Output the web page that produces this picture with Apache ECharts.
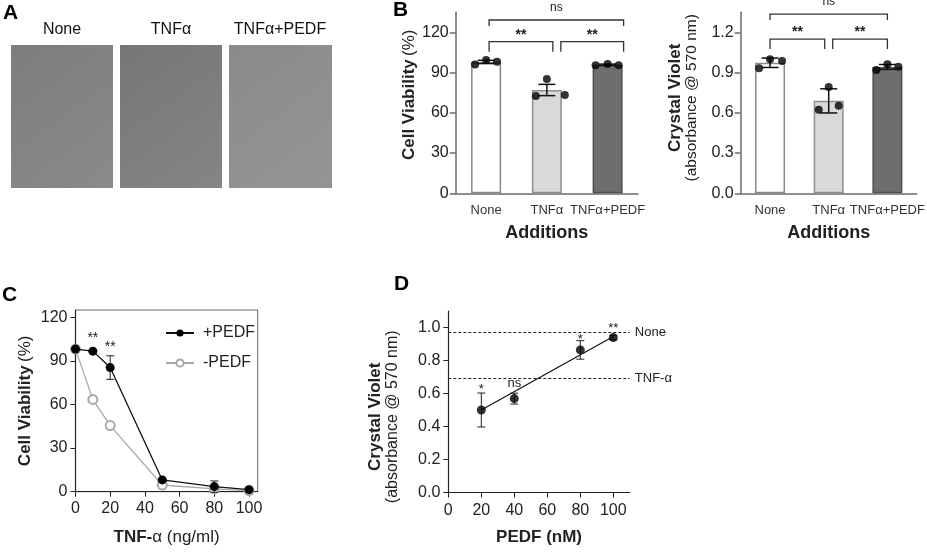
<!DOCTYPE html>
<html><head><meta charset="utf-8">
<script src="https://cdn.jsdelivr.net/npm/echarts@6/dist/echarts.min.js"></script>
<style>html,body{margin:0;padding:0;background:#fff}#c{width:927px;height:552px}</style>
</head><body><div id="c"></div>
<script>
// ---------------- DATA ----------------
// Panel B
const bCategories = ['None', 'TNFα', 'TNFα+PEDF'];
const viabilityMean = [97.9, 77.0, 95.8];
const viabilityErr = [1.2, 4.2, 0.5];
const viabilityLeft = [96.1, 72.5, 95.4];
const viabilityMid = [99.4, 85.2, 96.4];
const viabilityRight = [98.1, 73.3, 95.4];
const viabilityTicks = [0, 30, 60, 90, 120];
const crystalMean = [0.973, 0.689, 0.942];
const crystalErr = [0.035, 0.09, 0.018];
const crystalLeft = [0.933, 0.623, 0.920];
const crystalMid = [1.0, 0.792, 0.962];
const crystalRight = [0.987, 0.653, 0.944];
const crystalTicks = [0, 0.3, 0.6, 0.9, 1.2];
// significance brackets: [fromIndex, toIndex, yValue, label]
const viabilityBrackets = [[0, 2, 129.2, 'ns'], [0, 1, 113, '**'], [1, 2, 113, '**']];
const crystalBrackets = [[0, 2, 1.336, 'ns'], [0, 1, 1.15, '**'], [1, 2, 1.15, '**']];
// Panel C
const doseTNF = [0, 10, 20, 50, 80, 100];
const viabilityPlusPEDF = [98.1, 96.7, 85.4, 8.1, 3.5, 1.4];
const viabilityPlusPEDFErr = [0, 0, 8.1, 0.8, 3.9, 0.5];
const viabilityMinusPEDF = [98.1, 63.5, 45.5, 4.6, 2.0, 0.8];
const doseTicks = [0, 20, 40, 60, 80, 100];
const cSigX = [10, 20];
const cSigY = [107.8, 101.6];
const cSigLabels = ['**', '**'];
// Panel D
const dosePEDF = [20, 40, 80, 100];
const crystalPEDF = [0.50, 0.569, 0.864, 0.939];
const crystalPEDFErr = [0.103, 0.033, 0.056, 0.014];
const fitX = [20, 100];
const fitY = [0.50, 0.945];
const refLevels = [0.972, 0.688];
const refNames = ['None', 'TNF-α'];
const dSigY = [0.642, 0.653, 0.946, 1.011];
const dSigLabels = ['*', 'ns', '*', '**'];
const pedfTicks = [0, 20, 40, 60, 80, 100];
const crystalDTicks = [0, 0.2, 0.4, 0.6, 0.8, 1.0];

// ---------------- STYLE ----------------
const FONT = 'Liberation Sans, Arial, sans-serif';
const JIT_B1 = [[-11, 0, 11], [-11, 0, 18], [-12, 0, 11]];
const JIT_B2 = [[-11, 0, 12], [-10, 0, 10], [-11, 0, 11]];
// pixel tweaks of bracket ends [left, right]
const BR_B1 = [[3, 16], [3, 6], [14, 16]];
const BR_B2 = [[0, 0], [0, -4], [4, 0]];
const barStyles = [
  {color: '#ffffff', borderColor: '#8a8a8a', borderWidth: 1.5},
  {color: '#d9d9d9', borderColor: '#8f8f8f', borderWidth: 1.5},
  {color: '#6e6e6e', borderColor: '#4f4f4f', borderWidth: 1.5}
];

function errorBars(capW, lw, color) {
  return function (params, api) {
    const x = api.value(0), m = api.value(1), e = api.value(2);
    if (!e) return {type: 'group', children: []};
    const t = api.coord([x, m + e]), b = api.coord([x, m - e]);
    const st = {stroke: color, lineWidth: lw};
    return {type: 'group', children: [
      {type: 'line', shape: {x1: t[0], y1: t[1], x2: b[0], y2: b[1]}, style: st},
      {type: 'line', shape: {x1: t[0] - capW / 2, y1: t[1], x2: t[0] + capW / 2, y2: t[1]}, style: st},
      {type: 'line', shape: {x1: b[0] - capW / 2, y1: b[1], x2: b[0] + capW / 2, y2: b[1]}, style: st}
    ]};
  };
}
function starShift(label, fs) { return label.indexOf('*') >= 0 ? fs * 0.22 : -1; }
function bracketRender(list, tweaks) {
  return function (params, api) {
    const br = list[params.dataIndex], tw = tweaks[params.dataIndex];
    const p1 = api.coord([br[0], br[2]]), p2 = api.coord([br[1], br[2]]);
    const x1 = p1[0] + tw[0], x2 = p2[0] + tw[1], y = p1[1];
    const ns = br[3] === 'ns';
    const drop = ns ? 6 : 10;
    const fs = ns ? 12 : 14;
    const off = ns ? 11 : 10;
    return {type: 'group', children: [
      {type: 'polyline', shape: {points: [[x1, y + drop], [x1, y], [x2, y], [x2, y + drop]]},
        style: {stroke: '#333', lineWidth: 1.3, fill: null}},
      {type: 'text', style: {x: (x1 + x2) / 2, y: y - off + starShift(br[3], fs), text: br[3],
        align: 'center', verticalAlign: 'middle', fontSize: fs, fontFamily: FONT, fill: '#222',
        fontWeight: ns ? 'normal' : 'bold'}}
    ]};
  };
}
function sigRender(xs, ys, labels, fs) {
  return function (params, api) {
    const i = params.dataIndex;
    const p = api.coord([xs[i], ys[i]]);
    const lab = labels[i];
    return {type: 'text', style: {x: p[0], y: p[1] + starShift(lab, fs), text: lab, align: 'center',
      verticalAlign: 'middle', fontSize: fs, fontFamily: FONT, fill: '#222'}};
  };
}
function dots(vals, jit, col) {
  return vals.map((v, i) => ({value: [i, v], symbolOffset: [jit[i][col], 0]}));
}

const grayAxis = {lineStyle: {color: '#6a6a6a', width: 1.5}};
const blackAxis = {lineStyle: {color: '#222', width: 1.2}};
const tickLabel = {fontSize: 16, color: '#222', fontFamily: FONT};

function bXAxis(grid) {
  return {type: 'category', gridIndex: grid, data: bCategories,
    axisLine: grayAxis, axisTick: {alignWithLabel: true, length: 6, lineStyle: {color: '#6a6a6a', width: 1.5}},
    axisLabel: {fontSize: 13, fontFamily: FONT, color: '#333', margin: 11, interval: 0, hideOverlap: false},
    name: 'Additions', nameLocation: 'middle', nameGap: 31,
    nameTextStyle: {fontSize: 18, fontWeight: 'bold', color: '#222', fontFamily: FONT}};
}

const option = {
  animation: false,
  textStyle: {fontFamily: FONT},
  grid: [
    {left: 455.7, top: 12.2, width: 182.3, height: 181.1},
    {left: 740.7, top: 12.2, width: 181.5, height: 181.1},
    {left: 75.5, top: 310, width: 182.2, height: 181.7, show: true, borderColor: '#666', borderWidth: 1},
    {left: 448.3, top: 311, width: 181.5, height: 181.5}
  ],
  xAxis: [
    bXAxis(0), bXAxis(1),
    {type: 'value', gridIndex: 2, min: 0, max: 105, interval: 20, splitLine: {show: false},
      axisLine: blackAxis, axisTick: {length: 5, lineStyle: {color: '#222'}, customValues: doseTicks},
      axisLabel: Object.assign({margin: 9, customValues: doseTicks}, tickLabel),
      name: '{b|TNF-}{n|α (ng/ml)}', nameLocation: 'middle', nameGap: 37,
      nameTextStyle: {rich: {b: {fontSize: 17, fontWeight: 'bold', fontFamily: FONT, color: '#222'},
        n: {fontSize: 17, fontFamily: FONT, color: '#222'}}}},
    {type: 'value', gridIndex: 3, min: 0, max: 110, interval: 20, splitLine: {show: false},
      axisLine: blackAxis, axisTick: {length: 5, lineStyle: {color: '#222'}, customValues: pedfTicks},
      axisLabel: Object.assign({margin: 10, customValues: pedfTicks}, tickLabel),
      name: 'PEDF (nM)', nameLocation: 'middle', nameGap: 36,
      nameTextStyle: {fontSize: 17, fontWeight: 'bold', color: '#222', fontFamily: FONT}}
  ],
  yAxis: [
    {type: 'value', gridIndex: 0, min: 0, max: 135, interval: 30, splitLine: {show: false},
      axisLine: Object.assign({show: true}, grayAxis),
      axisTick: {show: true, length: 6, lineStyle: {color: '#6a6a6a', width: 1.5}, customValues: viabilityTicks},
      axisLabel: Object.assign({margin: 7, customValues: viabilityTicks}, tickLabel),
      name: '{b|Cell Viability} {n|(%)}', nameLocation: 'middle', nameGap: 37,
      nameTextStyle: {padding: [0, 0, 0, 16], rich: {b: {fontSize: 17, fontWeight: 'bold', fontFamily: FONT, color: '#222'},
        n: {fontSize: 17, fontFamily: FONT, color: '#222'}}}},
    {type: 'value', gridIndex: 1, min: 0, max: 1.35, interval: 0.3, splitLine: {show: false},
      axisLine: Object.assign({show: true}, grayAxis),
      axisTick: {show: true, length: 6, lineStyle: {color: '#6a6a6a', width: 1.5}, customValues: crystalTicks},
      axisLabel: Object.assign({margin: 7, customValues: crystalTicks, formatter: v => v.toFixed(1)}, tickLabel),
      name: '{b|Crystal Violet}\n{n|(absorbance @ 570 nm)}', nameLocation: 'middle', nameGap: 40,
      nameTextStyle: {padding: [0, 0, 0, 10], rich: {b: {fontSize: 17, fontWeight: 'bold', fontFamily: FONT, color: '#222', lineHeight: 17},
        n: {fontSize: 15.5, fontFamily: FONT, color: '#222', lineHeight: 17}}}},
    {type: 'value', gridIndex: 2, min: 0, max: 125, interval: 30, splitLine: {show: false},
      axisLine: Object.assign({show: true}, blackAxis),
      axisTick: {show: true, length: 5, lineStyle: {color: '#222'}, customValues: viabilityTicks},
      axisLabel: Object.assign({margin: 8, customValues: viabilityTicks}, tickLabel),
      name: '{b|Cell Viability} {n|(%)}', nameLocation: 'middle', nameGap: 42,
      nameTextStyle: {rich: {b: {fontSize: 17, fontWeight: 'bold', fontFamily: FONT, color: '#222'},
        n: {fontSize: 17, fontFamily: FONT, color: '#222'}}}},
    {type: 'value', gridIndex: 3, min: 0, max: 1.1, interval: 0.2, splitLine: {show: false},
      axisLine: Object.assign({show: true}, blackAxis),
      axisTick: {show: true, length: 5, lineStyle: {color: '#222'}, customValues: crystalDTicks},
      axisLabel: Object.assign({margin: 8, customValues: crystalDTicks, formatter: v => v.toFixed(1)}, tickLabel),
      name: '{b|Crystal Violet}\n{n|(absorbance @ 570 nm)}', nameLocation: 'middle', nameGap: 47,
      nameTextStyle: {padding: [0, 30, 0, 0], rich: {b: {fontSize: 17, fontWeight: 'bold', fontFamily: FONT, color: '#222', lineHeight: 17},
        n: {fontSize: 16, fontFamily: FONT, color: '#222', lineHeight: 17}}}}
  ],
  legend: {
    data: ['+PEDF', '-PEDF'], left: 160, top: 320, orient: 'vertical',
    itemWidth: 28, itemHeight: 9, itemGap: 14,
    textStyle: {fontSize: 16, color: '#222', fontFamily: FONT, padding: [0, 0, 0, 4]}
  },
  series: [
    // ---- B1
    {type: 'bar', xAxisIndex: 0, yAxisIndex: 0, barWidth: 30,
      data: viabilityMean.map((v, i) => ({value: v, itemStyle: barStyles[i]}))},
    {type: 'custom', xAxisIndex: 0, yAxisIndex: 0, renderItem: errorBars(17, 1.5, '#111'),
      data: viabilityMean.map((v, i) => [i, v, viabilityErr[i]]), encode: {x: 0, y: 1}, z: 3},
    {type: 'scatter', xAxisIndex: 0, yAxisIndex: 0, symbolSize: 8, itemStyle: {color: '#000'}, z: 4,
      data: dots(viabilityLeft, JIT_B1, 0).concat(dots(viabilityMid, JIT_B1, 1), dots(viabilityRight, JIT_B1, 2))},
    {type: 'custom', xAxisIndex: 0, yAxisIndex: 0, renderItem: bracketRender(viabilityBrackets, BR_B1),
      data: viabilityBrackets.map(b => [b[0], b[2]]), encode: {x: 0, y: 1}, clip: false},
    // ---- B2
    {type: 'bar', xAxisIndex: 1, yAxisIndex: 1, barWidth: 30,
      data: crystalMean.map((v, i) => ({value: v, itemStyle: barStyles[i]}))},
    {type: 'custom', xAxisIndex: 1, yAxisIndex: 1, renderItem: errorBars(17, 1.5, '#111'),
      data: crystalMean.map((v, i) => [i, v, crystalErr[i]]), encode: {x: 0, y: 1}, z: 3},
    {type: 'scatter', xAxisIndex: 1, yAxisIndex: 1, symbolSize: 8, itemStyle: {color: '#000'}, z: 4,
      data: dots(crystalLeft, JIT_B2, 0).concat(dots(crystalMid, JIT_B2, 1), dots(crystalRight, JIT_B2, 2))},
    {type: 'custom', xAxisIndex: 1, yAxisIndex: 1, renderItem: bracketRender(crystalBrackets, BR_B2),
      data: crystalBrackets.map(b => [b[0], b[2]]), encode: {x: 0, y: 1}, clip: false},
    // ---- C
    {name: '-PEDF', type: 'line', xAxisIndex: 2, yAxisIndex: 2, symbol: 'emptyCircle', symbolSize: 9,
      lineStyle: {color: '#a8a8a8', width: 1.3}, itemStyle: {color: '#a8a8a8', borderWidth: 2},
      data: doseTNF.map((x, i) => [x, viabilityMinusPEDF[i]]), z: 2},
    {name: '+PEDF', type: 'line', xAxisIndex: 2, yAxisIndex: 2, symbol: 'circle', symbolSize: 9,
      lineStyle: {color: '#111', width: 1.3}, itemStyle: {color: '#000'},
      data: doseTNF.map((x, i) => [x, viabilityPlusPEDF[i]]), z: 4},
    {type: 'custom', xAxisIndex: 2, yAxisIndex: 2, renderItem: errorBars(8, 1, '#222'),
      data: doseTNF.map((x, i) => [x, viabilityPlusPEDF[i], viabilityPlusPEDFErr[i]]), encode: {x: 0, y: 1}, z: 3},
    {type: 'custom', xAxisIndex: 2, yAxisIndex: 2, renderItem: sigRender(cSigX, cSigY, cSigLabels, 14),
      data: cSigX.map((x, i) => [x, cSigY[i]]), encode: {x: 0, y: 1}, clip: false},
    // ---- D
    {type: 'line', xAxisIndex: 3, yAxisIndex: 3, symbol: 'none', lineStyle: {color: '#111', width: 1.2},
      data: fitX.map((x, i) => [x, fitY[i]]),
      markLine: {symbol: 'none', silent: true, lineStyle: {type: [3, 2], color: '#222', width: 1},
        label: {position: 'end', distance: 5, formatter: p => p.name, fontSize: 13, color: '#222', fontFamily: FONT},
        data: refLevels.map((v, i) => ({yAxis: v, name: refNames[i]}))}},
    {type: 'custom', xAxisIndex: 3, yAxisIndex: 3, renderItem: errorBars(8, 1, '#222'),
      data: dosePEDF.map((x, i) => [x, crystalPEDF[i], crystalPEDFErr[i]]), encode: {x: 0, y: 1}, z: 3},
    {type: 'scatter', xAxisIndex: 3, yAxisIndex: 3, symbolSize: 9, itemStyle: {color: '#000'}, z: 4,
      data: dosePEDF.map((x, i) => [x, crystalPEDF[i]])},
    {type: 'custom', xAxisIndex: 3, yAxisIndex: 3, renderItem: sigRender(dosePEDF, dSigY, dSigLabels, 13),
      data: dosePEDF.map((x, i) => [x, dSigY[i]]), encode: {x: 0, y: 1}, clip: false}
  ],
  graphic: [
    {type: 'text', left: 3, top: 3, style: {text: 'A', fontSize: 21, fontWeight: 'bold', fill: '#000', fontFamily: FONT}},
    {type: 'text', left: 393, top: 0, style: {text: 'B', fontSize: 21, fontWeight: 'bold', fill: '#000', fontFamily: FONT}},
    {type: 'text', left: 2, top: 285, style: {text: 'C', fontSize: 21, fontWeight: 'bold', fill: '#000', fontFamily: FONT}},
    {type: 'text', left: 394, top: 274, style: {text: 'D', fontSize: 21, fontWeight: 'bold', fill: '#000', fontFamily: FONT}},
    {type: 'text', x: 62, y: 30, style: {text: 'None', fontSize: 16, fill: '#111', fontFamily: FONT, align: 'center', verticalAlign: 'middle'}},
    {type: 'text', x: 171, y: 30, style: {text: 'TNFα', fontSize: 16, fill: '#111', fontFamily: FONT, align: 'center', verticalAlign: 'middle'}},
    {type: 'text', x: 280, y: 30, style: {text: 'TNFα+PEDF', fontSize: 16, fill: '#111', fontFamily: FONT, align: 'center', verticalAlign: 'middle'}},
    {type: 'rect', shape: {x: 11, y: 45, width: 102, height: 143},
      style: {fill: new echarts.graphic.LinearGradient(0, 0, 1, 1, [{offset: 0, color: '#7d7d7d'}, {offset: 1, color: '#8a8a8a'}])}},
    {type: 'rect', shape: {x: 120, y: 45, width: 102, height: 143},
      style: {fill: new echarts.graphic.LinearGradient(0, 0, 1, 1, [{offset: 0, color: '#767676'}, {offset: 1, color: '#858585'}])}},
    {type: 'rect', shape: {x: 229, y: 45, width: 103, height: 143},
      style: {fill: new echarts.graphic.LinearGradient(0, 0, 1, 1, [{offset: 0, color: '#8a8a8a'}, {offset: 1, color: '#959595'}])}}
  ]
};
const chart = echarts.init(document.getElementById('c'), null, {renderer: 'canvas'});
chart.setOption(option);
</script></body></html>
